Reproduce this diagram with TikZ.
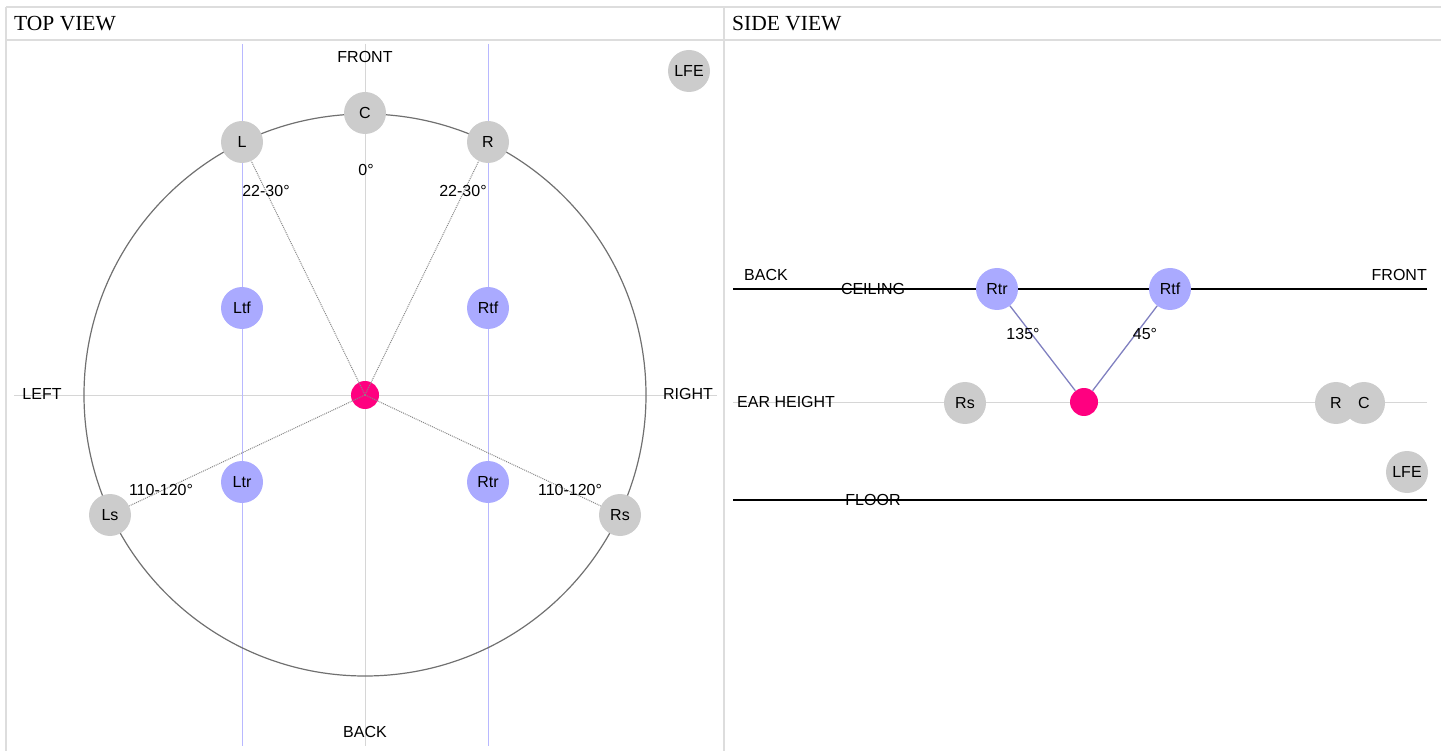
\documentclass[tikz,border=0pt]{standalone}
\usepackage{fontspec}
\setmainfont{Liberation Sans}
\newfontfamily\titlefont{Liberation Serif}
\definecolor{spkgray}{HTML}{CCCCCC}
\definecolor{spkblue}{HTML}{AAAAFF}
\definecolor{listener}{HTML}{FF0080}
\definecolor{framegray}{HTML}{DDDDDD}
\definecolor{axisgray}{HTML}{D6D6D6}
\definecolor{guideblue}{HTML}{B8B8FF}
\definecolor{elevline}{HTML}{8080C0}
\definecolor{ringgray}{HTML}{707070}
\definecolor{raygray}{HTML}{888888}
\tikzset{
  spk/.style={circle, fill=spkgray, minimum size=42pt, inner sep=0pt, font=\fontsize{16}{19}\selectfont},
  spkb/.style={spk, fill=spkblue},
  lis/.style={circle, fill=listener, minimum size=28pt, inner sep=0pt},
  lbl/.style={inner sep=0pt, font=\fontsize{16}{19}\selectfont},
  ttl/.style={inner sep=0pt, anchor=west, font=\titlefont\fontsize{21.5}{24}\selectfont},
  frame/.style={draw=framegray, line width=2pt},
  axis/.style={draw=axisgray, line width=1pt},
  guide/.style={draw=guideblue, line width=1pt},
  ray/.style={draw=raygray, line width=1pt, densely dotted},
  elev/.style={draw=elevline, line width=1.3pt},
  plane/.style={draw=black, line width=1.3pt},
}
\begin{document}
\begin{tikzpicture}[x=1pt, y=-1pt]
\useasboundingbox (0,0) rectangle (1441,751);
% frame
\coordinate (f1) at (6,7); \coordinate (f2) at (1441,7);
\coordinate (f3) at (6,40); \coordinate (f4) at (1441,40);
\coordinate (f5) at (6,751); \coordinate (f6) at (724,7); \coordinate (f7) at (724,751);
\draw[frame] (f1) -- (f2);
\draw[frame] (f3) -- (f4);
\draw[frame] (f1) -- (f5);
\draw[frame] (f6) -- (f7);
\node[ttl] (t1) at (14,24) {TOP VIEW};
\node[ttl] (t2) at (732,24) {SIDE VIEW};

% ===== TOP VIEW =====
\coordinate (ctr) at (365,395);
\coordinate (vt) at (365,44); \coordinate (vb) at (365,746);
\coordinate (hl) at (14,395); \coordinate (hr) at (717,395);
\draw[axis] (vt) -- (vb);
\draw[axis] (hl) -- (hr);
\coordinate (blt) at (242,44); \coordinate (blb) at (242,746);
\coordinate (brt) at (488,44); \coordinate (brb) at (488,746);
\draw[guide] (blt) -- (blb);
\draw[guide] (brt) -- (brb);
\draw[draw=ringgray, line width=1.2pt] (ctr) circle[radius=281];

\node[lbl] (front) at (365,57) {FRONT};
\node[lbl] (back) at (365,732) {BACK};
\node[lbl] (left) at (42,394) {LEFT};
\node[lbl] (right) at (688,394) {RIGHT};

\node[spk] (C) at (365,113) {C};
\node[spk] (L) at (242,142) {L};
\node[spk] (R) at (488,142) {R};
\node[spkb] (Ltf) at (242,308) {Ltf};
\node[spkb] (Rtf) at (488,308) {Rtf};
\node[spkb] (Ltr) at (242,482) {Ltr};
\node[spkb] (Rtr) at (488,482) {Rtr};
\node[spk] (Ls) at (110,515) {Ls};
\node[spk] (Rs) at (620,515) {Rs};
\node[spk] (LFE) at (689,71) {LFE};

\node[lis] (me) at (ctr) {};
\draw[ray] (ctr) -- (L);
\draw[ray] (ctr) -- (R);
\draw[ray] (ctr) -- (Ls);
\draw[ray] (ctr) -- (Rs);

\node[lbl] (a0) at (366,170) {0°};
\node[lbl] (aL) at (266,191) {22-30°};
\node[lbl] (aR) at (463,191) {22-30°};
\node[lbl] (aLs) at (161,490) {110-120°};
\node[lbl] (aRs) at (570,490) {110-120°};

% ===== SIDE VIEW =====
\coordinate (cl) at (733,289); \coordinate (cr) at (1427,289);
\coordinate (el) at (733,402); \coordinate (er) at (1427,402);
\coordinate (fl) at (733,500); \coordinate (fr) at (1427,500);
\draw[axis] (el) -- (er);
\draw[plane] (cl) -- (cr);
\draw[plane] (fl) -- (fr);

\node[lbl, anchor=west] (sback) at (744,275) {BACK};
\node[lbl, anchor=east] (sfront) at (1427,275) {FRONT};
\node[lbl] (ceil) at (873,289) {CEILING};
\node[lbl, anchor=west] (ear) at (737,402) {EAR HEIGHT};
\node[lbl] (floor) at (873,500) {FLOOR};

\node[spkb] (sRtr) at (997,289) {Rtr};
\node[spkb] (sRtf) at (1170,289) {Rtf};
\node[spk] (sRs) at (965,403) {Rs};
\node[spk] (sR) at (1336,403) {R};
\node[spk] (sC) at (1364,403) {C};
\node[spk] (sLFE) at (1407,472) {LFE};
\node[lis] (sme) at (1084,402) {};
\draw[elev] (sme) -- (sRtr);
\draw[elev] (sme) -- (sRtf);
\node[lbl] (a135) at (1023,334) {135°};
\node[lbl] (a45) at (1145,334) {45°};
\end{tikzpicture}
\end{document}
